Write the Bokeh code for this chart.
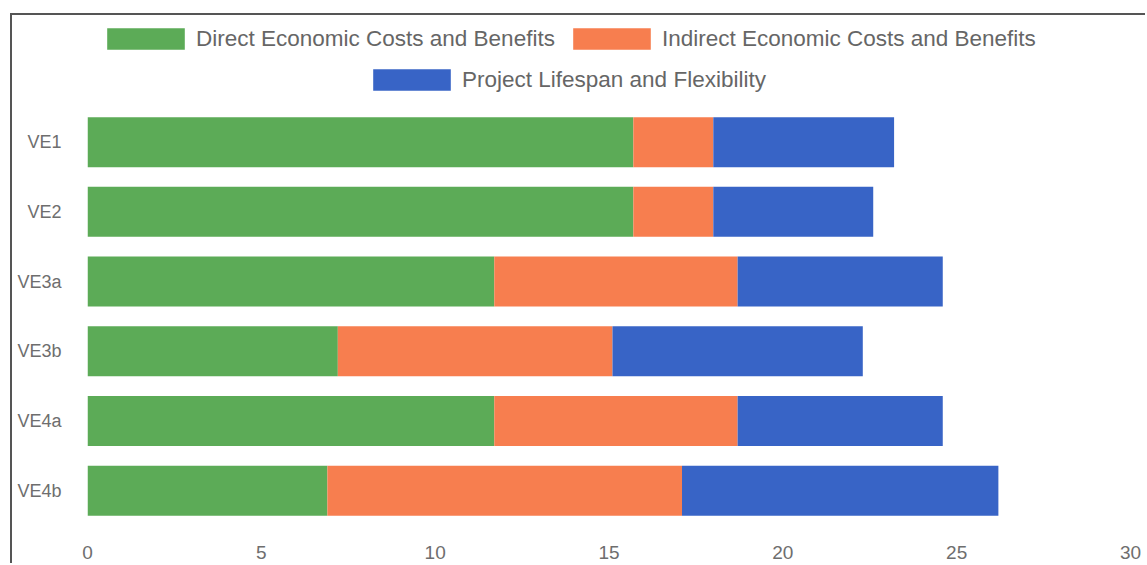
from bokeh.plotting import figure
from bokeh.models import ColumnDataSource, Range1d, Legend, LegendItem, FixedTicker
from bokeh.embed import file_html
from bokeh.resources import INLINE

categories = ["VE1", "VE2", "VE3a", "VE3b", "VE4a", "VE4b"]
direct = [15.7, 15.7, 11.7, 7.2, 11.7, 6.9]
indirect = [2.3, 2.3, 7.0, 7.9, 7.0, 10.2]
lifespan = [5.2, 4.6, 5.9, 7.2, 5.9, 9.1]
series_names = ["Direct Economic Costs and Benefits",
                "Indirect Economic Costs and Benefits",
                "Project Lifespan and Flexibility"]
colors = ["#5cab57", "#f77e4f", "#3864c6"]
x_ticks = [0, 5, 10, 15, 20, 25, 30]

n = len(categories)
positions = [n - 1 - i for i in range(n)]  # first category on top

source = ColumnDataSource(dict(pos=positions, cat=categories, direct=direct,
                               indirect=indirect, lifespan=lifespan))

p = figure(width=1135, height=550, output_backend="svg", toolbar_location=None,
           y_range=Range1d(-0.5, n + 0.817), x_range=Range1d(0, 30),
           min_border_left=75, min_border_right=17, min_border_bottom=40, min_border_top=0)
p.margin = (13, 0, 0, 10)
p.styles = {"border-left": "2px solid #555", "border-top": "2px solid #555"}
p.outline_line_color = None
p.background_fill_color = "white"

rends = p.hbar_stack(["direct", "indirect", "lifespan"], y="pos", height=0.717,
                     color=colors, line_color=None, source=source)

p.xgrid.grid_line_color = None
p.ygrid.grid_line_color = None
p.xaxis.ticker = FixedTicker(ticks=x_ticks)
p.yaxis.ticker = FixedTicker(ticks=positions)
p.yaxis.major_label_overrides = {pos: c for pos, c in zip(positions, categories)}
for ax in (p.xaxis[0], p.yaxis[0]):
    ax.axis_line_color = None
    ax.major_tick_line_color = None
    ax.minor_tick_line_color = None
    ax.major_label_text_color = "#6e6e6e"
    ax.major_label_text_font = "Liberation Sans"
p.xaxis.major_label_text_font_size = "19px"
p.yaxis.major_label_text_font_size = "18px"
p.xaxis.major_label_standoff = 14
p.yaxis.major_label_standoff = 20


def make_legend(items, loc):
    return Legend(items=items, orientation="horizontal", location=loc,
                  glyph_width=97, glyph_height=27, label_standoff=2, spacing=8,
                  label_text_font="Liberation Sans", label_text_font_size="22.5px",
                  label_text_color="#666666", border_line_color=None,
                  background_fill_alpha=0, margin=0, padding=0)

leg1 = make_legend([LegendItem(label=series_names[0], renderers=[rends[0]]),
                    LegendItem(label=series_names[1], renderers=[rends[1]])], (10, 473))
leg2 = make_legend([LegendItem(label=series_names[2], renderers=[rends[2]])], (276, 432))
p.add_layout(leg1)
p.add_layout(leg2)

open("out.html", "w").write(file_html(p, INLINE))
